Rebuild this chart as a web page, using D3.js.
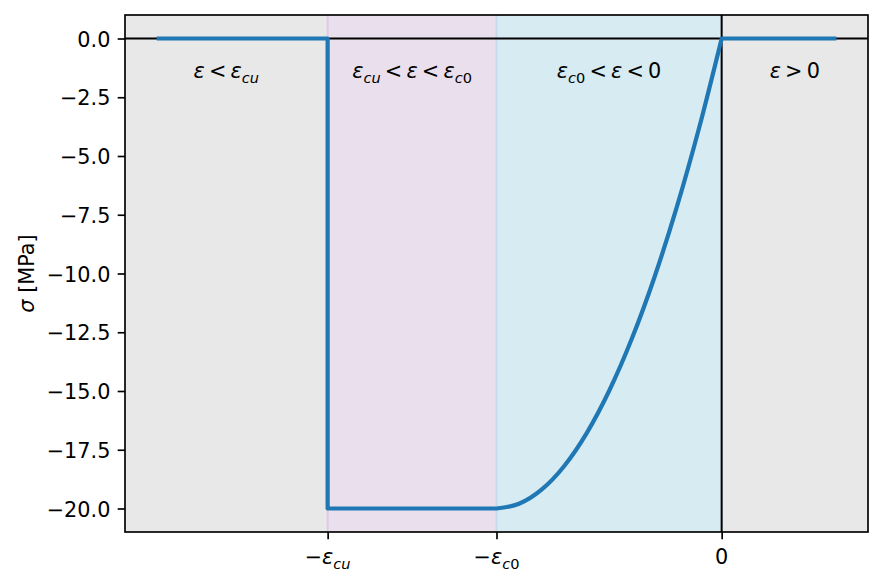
<!DOCTYPE html>
<html>
<head>
<meta charset="utf-8">
<title>Concrete stress-strain</title>
<script src="https://d3js.org/d3.v7.min.js"></script>
<style>
  body { margin: 0; background: #fff; }
  text { font-family: "DejaVu Sans", sans-serif; fill: #000; }
</style>
</head>
<body>
<div id="chart"></div>
<script>
// strain limits
var epsCu = 0.0035, epsC0 = 0.002;

// crushed branch: zero beyond eps_cu, then the plateau
var stepStrain = [-0.005, -0.0035, -0.0035, -0.002];
var stepStress = [0, 0, -20, -20];

// parabolic branch
var parabolaStrain = [-0.002, -0.0018, -0.0016, -0.0014, -0.0012, -0.001, -0.0008, -0.0006, -0.0004, -0.0002, 0];
var parabolaStress = [-20, -19.8, -19.2, -18.2, -16.8, -15, -12.8, -10.2, -7.2, -3.8, 0];

// tension: no stress
var tensionStrain = [0, 0.001];
var tensionStress = [0, 0];

var yTicks = [0, -2.5, -5, -7.5, -10, -12.5, -15, -17.5, -20];
var xTicks = [-epsCu, -epsC0, 0];
// label pieces: [text, kind]  kind: "" upright, "i" italic, "s" italic subscript, "su" upright subscript, "r" relation
var xTickLabels = [
  [["\u2212", ""], ["ε", "i"], ["cu", "s"]],
  [["\u2212", ""], ["ε", "i"], ["c", "s"], ["0", "su"]],
  [["0", ""]]
];
var zoneEdges = [-epsCu, -epsC0, 0];
var zoneLabels = [
  [["ε", "i"], ["<", "r"], ["ε", "i"], ["cu", "s"]],
  [["ε", "i"], ["cu", "s"], ["<", "r"], ["ε", "i"], ["<", "r"], ["ε", "i"], ["c", "s"], ["0", "su"]],
  [["ε", "i"], ["c", "s"], ["0", "su"], ["<", "r"], ["ε", "i"], ["<", "r"], ["0", ""]],
  [["ε", "i"], [">", "r"], ["0", ""]]
];
var zoneColors = ["#e8e8e8", "#eadfec", "#d6ebf2", "#e8e8e8"];
var edgeColors = ["#dccde1", "#c5dbea"];

var W = 883, H = 583;
var margin = {top: 15, right: 15, bottom: 51, left: 125};
var width = W - margin.left - margin.right,
    height = H - margin.top - margin.bottom;
var fs = 20.8;

var svg = d3.select("#chart").append("svg")
  .attr("width", W).attr("height", H);
var g = svg.append("g")
  .attr("transform", "translate(" + margin.left + "," + margin.top + ")");

var x = d3.scaleLinear().domain([-0.0053, 0.0013]).range([0, width]);
var y = d3.scaleLinear().domain([-21, 1]).range([height, 0]);

// writes a piece list into a text element as tspans (rough mathtext)
function richText(sel, parts) {
  var down = 0, gap = 0;
  parts.forEach(function(p) {
    var t = sel.append("tspan").text(p[0].replace(/ /g, "\u00a0"));
    var sub = (p[1] == "s" || p[1] == "su");
    if (p[1] == "i" || p[1] == "s") t.attr("font-style", "italic");
    if (sub) t.attr("font-size", fs * 0.7);
    var dx = gap;
    if (p[1] == "r") dx += fs * 0.2;
    if (dx) t.attr("dx", dx);
    gap = (p[1] == "r") ? fs * 0.2 : 0;
    var want = sub ? fs * 0.22 : 0;
    if (want != down) { t.attr("dy", want - down); down = want; }
  });
}

// shaded zones
var bounds = [x.domain()[0]].concat(zoneEdges, [x.domain()[1]]);
zoneColors.forEach(function(c, i) {
  g.append("rect")
    .attr("x", x(bounds[i]))
    .attr("y", 0)
    .attr("width", x(bounds[i + 1]) - x(bounds[i]))
    .attr("height", height)
    .attr("fill", c);
});
edgeColors.forEach(function(c, i) {
  g.append("line")
    .attr("x1", x(zoneEdges[i])).attr("x2", x(zoneEdges[i]))
    .attr("y1", 0).attr("y2", height)
    .attr("stroke", c).attr("stroke-width", 2);
});

// axis lines through the origin
g.append("line")
  .attr("x1", 0).attr("x2", width)
  .attr("y1", y(0)).attr("y2", y(0))
  .attr("stroke", "#000").attr("stroke-width", 2);
g.append("line")
  .attr("x1", x(0)).attr("x2", x(0))
  .attr("y1", 0).attr("y2", height)
  .attr("stroke", "#000").attr("stroke-width", 2);

// the stress-strain curve as one path
var lin = d3.line().x(function(d) { return x(d[0]); }).y(function(d) { return y(d[1]); });
var smooth = d3.line().x(function(d) { return x(d[0]); }).y(function(d) { return y(d[1]); })
  .curve(d3.curveMonotoneX);
var stepPts = d3.zip(stepStrain, stepStress);
var parPts = d3.zip(parabolaStrain, parabolaStress);
var tenPts = d3.zip(tensionStrain, tensionStress);
var pathD = lin(stepPts) + smooth(parPts).replace(/^M/, "L") + lin(tenPts).replace(/^M/, "L");
g.append("path")
  .attr("d", pathD)
  .attr("fill", "none")
  .attr("stroke", "#1f77b4")
  .attr("stroke-width", 4.2)
  .attr("stroke-linejoin", "round")
  .attr("stroke-linecap", "square");

// zone labels
zoneLabels.forEach(function(parts, i) {
  var t = g.append("text")
    .attr("x", x((bounds[i] + bounds[i + 1]) / 2))
    .attr("y", 78 - margin.top)
    .attr("text-anchor", "middle")
    .attr("font-size", fs);
  richText(t, parts);
});

// axes
var yAxis = g.append("g")
  .call(d3.axisLeft(y).tickValues(yTicks)
    .tickFormat(function(d) { return d3.format(".1f")(d).replace("-", "\u2212"); })
    .tickSize(7.3).tickPadding(7.3));
yAxis.select(".domain").remove();
yAxis.selectAll("line").attr("stroke-width", 1.67);
yAxis.selectAll("text").attr("font-size", fs).attr("font-family", "DejaVu Sans").attr("dy", "0.36em");

var xAxis = g.append("g")
  .attr("transform", "translate(0," + height + ")")
  .call(d3.axisBottom(x).tickValues(xTicks).tickFormat("").tickSize(7.3));
xAxis.select(".domain").remove();
xAxis.selectAll("line").attr("stroke-width", 1.67);
xTicks.forEach(function(v, i) {
  var t = g.append("text")
    .attr("x", x(v))
    .attr("y", height + 32)
    .attr("text-anchor", "middle")
    .attr("font-size", fs);
  richText(t, xTickLabels[i]);
});

// frame
g.append("rect")
  .attr("width", width).attr("height", height)
  .attr("fill", "none").attr("stroke", "#000").attr("stroke-width", 1.67);

// y label
var yl = svg.append("text")
  .attr("transform", "translate(34," + (margin.top + height / 2) + ") rotate(-90)")
  .attr("text-anchor", "middle")
  .attr("font-size", fs);
richText(yl, [["σ", "i"], [" [MPa]", ""]]);
</script>
</body>
</html>
